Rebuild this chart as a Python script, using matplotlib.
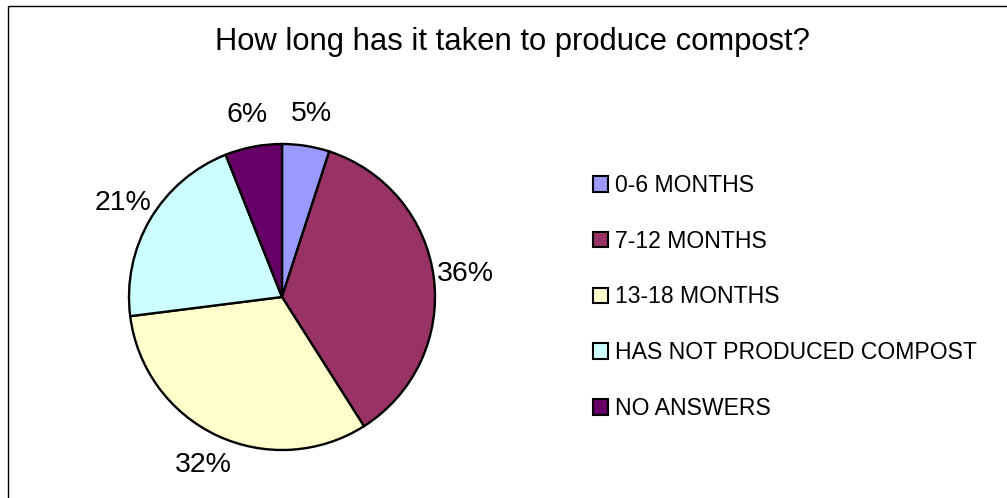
import matplotlib
matplotlib.use("Agg")
import matplotlib.pyplot as plt
from matplotlib.patches import Rectangle

# データ
categories = ["0-6 MONTHS", "7-12 MONTHS", "13-18 MONTHS", "HAS NOT PRODUCED COMPOST", "NO ANSWERS"]
values = [5, 36, 32, 21, 6]
colors = ["#9999FF", "#993366", "#FFFFCC", "#CCFFFF", "#660066"]
title = "How long has it taken to produce compost?"

plt.rcParams["font.family"] = ["Liberation Sans", "DejaVu Sans"]

W, H = 1007, 498
fig = plt.figure(figsize=(W / 100, H / 100), dpi=100)

# 外枠
fig.patches.append(Rectangle((8 / W, -0.1), 1.2, 1.1 - 6 / H, transform=fig.transFigure,
                             fill=False, edgecolor="black", linewidth=1.0))

# 円グラフ
cx, cy, r = 282, 297, 153
ax = fig.add_axes([(cx - r) / W, (H - cy - r) / H, 2 * r / W, 2 * r / H])
wedges, texts, autotexts = ax.pie(
    values, colors=colors, startangle=90, counterclock=False, radius=1,
    autopct="%1.0f%%", pctdistance=1.21,
    wedgeprops=dict(edgecolor="black", linewidth=1.7),
    textprops=dict(fontsize=20.5, color="black"),
)
ax.set_xlim(-1, 1)
ax.set_ylim(-1, 1)
ax.set_aspect("equal")
ax.axis("off")

# タイトル
fig.text(512 / W, 1 - 42 / H, title, ha="center", va="center", fontsize=22.3)

# 凡例
fig.legend(wedges, categories, loc="upper left", bbox_to_anchor=(593 / W, 1 - 174 / H),
           frameon=False, fontsize=16.6, handlelength=0.65, handleheight=0.65,
           handletextpad=0.3, labelspacing=1.42, borderpad=0, borderaxespad=0)
for h in fig.legends[0].legend_handles:
    h.set_edgecolor("black")
    h.set_linewidth(1.5)

fig.savefig("out.png", dpi=100)
